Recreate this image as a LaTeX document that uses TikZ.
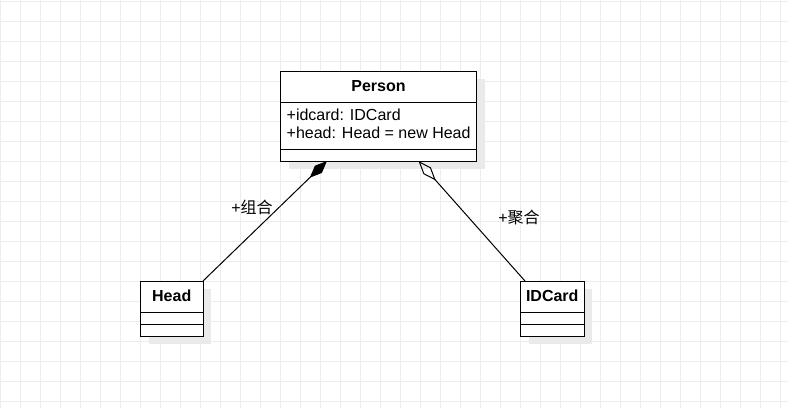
\documentclass[tikz,border=0pt]{standalone}
\usepackage{fontspec}
\setmainfont{Liberation Sans}
\newfontfamily\cjk{Noto Sans CJK SC}
\usetikzlibrary{arrows.meta,calc}
\definecolor{gridc}{RGB}{236,236,236}
\definecolor{shadowc}{RGB}{234,234,234}
\begin{document}
\begin{tikzpicture}[x=1pt,y=-1pt,
  box/.style={draw=black, line width=1pt, fill=white, inner sep=0pt, outer sep=0pt},
  title/.style={font=\fontsize{16}{18}\selectfont\bfseries, inner sep=0pt},
  attr/.style={font=\fontsize{16}{18}\selectfont, inner sep=0pt, anchor=base west},
  lbl/.style={font=\fontsize{16}{18}\selectfont, inner sep=0pt},
  link/.style={line width=1pt, draw=black},
  shade/.style={fill=shadowc, draw=none},
  sep/.style={line width=1pt, draw=black}
]
\useasboundingbox (0,0) rectangle (788,408);
\fill[white] (0,0) rectangle (788,408);
\foreach \x in {0,20,...,780} \draw[gridc, line width=1pt] (\x+0.5,0) -- (\x+0.5,408);
\foreach \y in {1,21,...,401} \draw[gridc, line width=1pt] (0,\y+0.5) -- (788,\y+0.5);

% shadows
\fill[shade] (288.5,79) rectangle (484.5,169);
\fill[shade] (148.5,289) rectangle (211,344);
\fill[shade] (528.5,289) rectangle (592,344);

% Person
\node[box, minimum width=196, minimum height=90] (person) at (378.5,116) {};
\draw[sep] ($(person.north west)+(0,31.5)$) -- ($(person.north east)+(0,31.5)$);
\draw[sep] ($(person.north west)+(0,78.5)$) -- ($(person.north east)+(0,78.5)$);
\node[title] (ptitle) at (378.5,86.5) {Person};
\node[attr] (pa1) at (286.5,120) {+idcard: IDCard};
\node[attr] (pa2) at (286.5,138.3) {+head: Head = new Head};

% Head
\node[box, minimum width=62.5, minimum height=55] (head) at (171.75,308.5) {};
\draw[sep] ($(head.north west)+(0,31.5)$) -- ($(head.north east)+(0,31.5)$);
\draw[sep] ($(head.north west)+(0,43)$) -- ($(head.north east)+(0,43)$);
\node[title] (htitle) at (171.75,296) {Head};

% IDCard
\node[box, minimum width=63.5, minimum height=55] (idcard) at (552.25,308.5) {};
\draw[sep] ($(idcard.north west)+(0,31.5)$) -- ($(idcard.north east)+(0,31.5)$);
\draw[sep] ($(idcard.north west)+(0,43)$) -- ($(idcard.north east)+(0,43)$);
\node[title] (ititle) at (552.25,296) {IDCard};

% connectors
\draw[link, -{Diamond[length=24pt,width=10pt,fill=black]}] (head.north east) -- ($(person.south west)+(46.5,0)$);
\draw[link, -{Diamond[open,length=26pt,width=10pt]}] ($(idcard.north west)+(4.5,0)$) -- ($(person.south west)+(138,0)$);

\node[lbl] (l1) at (252,207) {+{\cjk 组合}};
\node[lbl] (l2) at (519,217) {+{\cjk 聚合}};
\end{tikzpicture}
\end{document}
